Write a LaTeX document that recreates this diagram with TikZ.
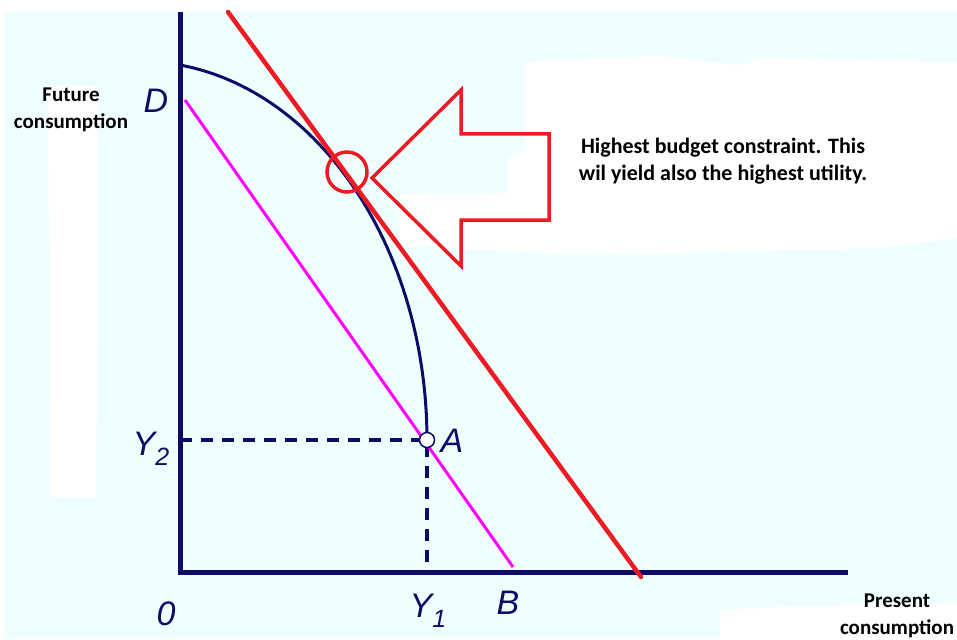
\documentclass[tikz,border=0pt]{standalone}
\usepackage{fontspec}
\setmainfont{Carlito}
\newfontfamily\graphfont{Liberation Sans}
\usepackage{tikz}
\definecolor{AxisNavy}{HTML}{0C0C66}
\definecolor{BudgetRed}{HTML}{ED1C24}
\definecolor{LowMagenta}{HTML}{FF00FF}
\definecolor{PanelCyan}{HTML}{EFFFFF}

\begin{document}
\begin{tikzpicture}[x=1pt,y=-1pt, every node/.style={font=\bfseries\fontsize{21}{27}\selectfont, align=center, inner sep=0pt},
  letter/.style={font=\graphfont\itshape\fontsize{34}{34}\selectfont, text=AxisNavy, anchor=base},
  axisline/.style={AxisNavy, line width=5pt, line join=miter},
  guide/.style={AxisNavy, line width=3.5pt, dash pattern=on 12pt off 9pt}]
  \useasboundingbox (0,0) rectangle (957,639);
  \fill[white] (0,0) rectangle (957,639);
  \fill[PanelCyan] (4,12) rectangle (957,639);
  \fill[white] (47,87) -- (98,87) -- (98,300) -- (96,497) -- (51,497) -- (50,300) -- cycle;
  \fill[white] (400,195) -- (508,193) -- (508,157) -- (525,150) -- (525,62) -- (660,56) -- (735,65) -- (760,58)
    -- (957,62) -- (957,238) -- (880,248) -- (600,255) -- (480,250) -- (400,245) -- cycle;
  \fill[white] (720,610) -- (800,606) -- (957,603) -- (957,639) -- (720,639) -- cycle;
  \coordinate (O) at (180,572);
  \coordinate (Ytop) at (180,12);
  \coordinate (Xend) at (848,572);
  \coordinate (A) at (427,440);
  \coordinate (Y2) at (180,440);
  \coordinate (Y1) at (427,572);
  \coordinate (magTop) at (185,100);
  \coordinate (magEnd) at (513,567);
  \coordinate (redTop) at (228,12);
  \coordinate (redEnd) at (641,577);
  \draw[guide] (Y2) -- (A) -- (Y1);
  \draw[axisline] (Ytop) -- (O) -- (Xend);
  \draw[AxisNavy, line width=3pt] plot[domain=82:0, samples=60] ({140+287*cos(\x)},{440-378.7*sin(\x)});
  \draw[LowMagenta, line width=3pt] (magTop) -- (magEnd);
  \draw[BudgetRed, line width=4.5pt, line cap=round] (redTop) -- (redEnd);
  \node[circle, draw=BudgetRed, line width=3.5pt, minimum size=40pt] (touch) at (347,172) {};
  \draw[BudgetRed, line width=3.5pt, line join=miter] (372,178) -- (461,90) -- (461,134) -- (549,134)
    -- (549,220) -- (461,220) -- (461,266) -- cycle;
  \node[circle, draw=AxisNavy, fill=white, line width=1.5pt, minimum size=15pt] (ptA) at (A) {};
  \node[font=\bfseries\fontsize{22}{27}\selectfont] (note) at (723,161) {Highest budget constraint. This\\wil yield also the highest utility.};
  \node (future) at (71,110) {Future\\consumption};
  \node (present) at (897,616) {Present\\consumption};
  \node[letter] (labD) at (156,113) {D};
  \node[letter] (labY2) at (151,455) {Y\raisebox{-10pt}{\fontsize{25}{25}\selectfont 2}};
  \node[letter] (labA) at (452,452) {A};
  \node[letter] (lab0) at (166,625) {0};
  \node[letter] (labY1) at (428,617) {Y\raisebox{-10pt}{\fontsize{25}{25}\selectfont 1}};
  \node[letter] (labB) at (508,614) {B};
\end{tikzpicture}
\end{document}
